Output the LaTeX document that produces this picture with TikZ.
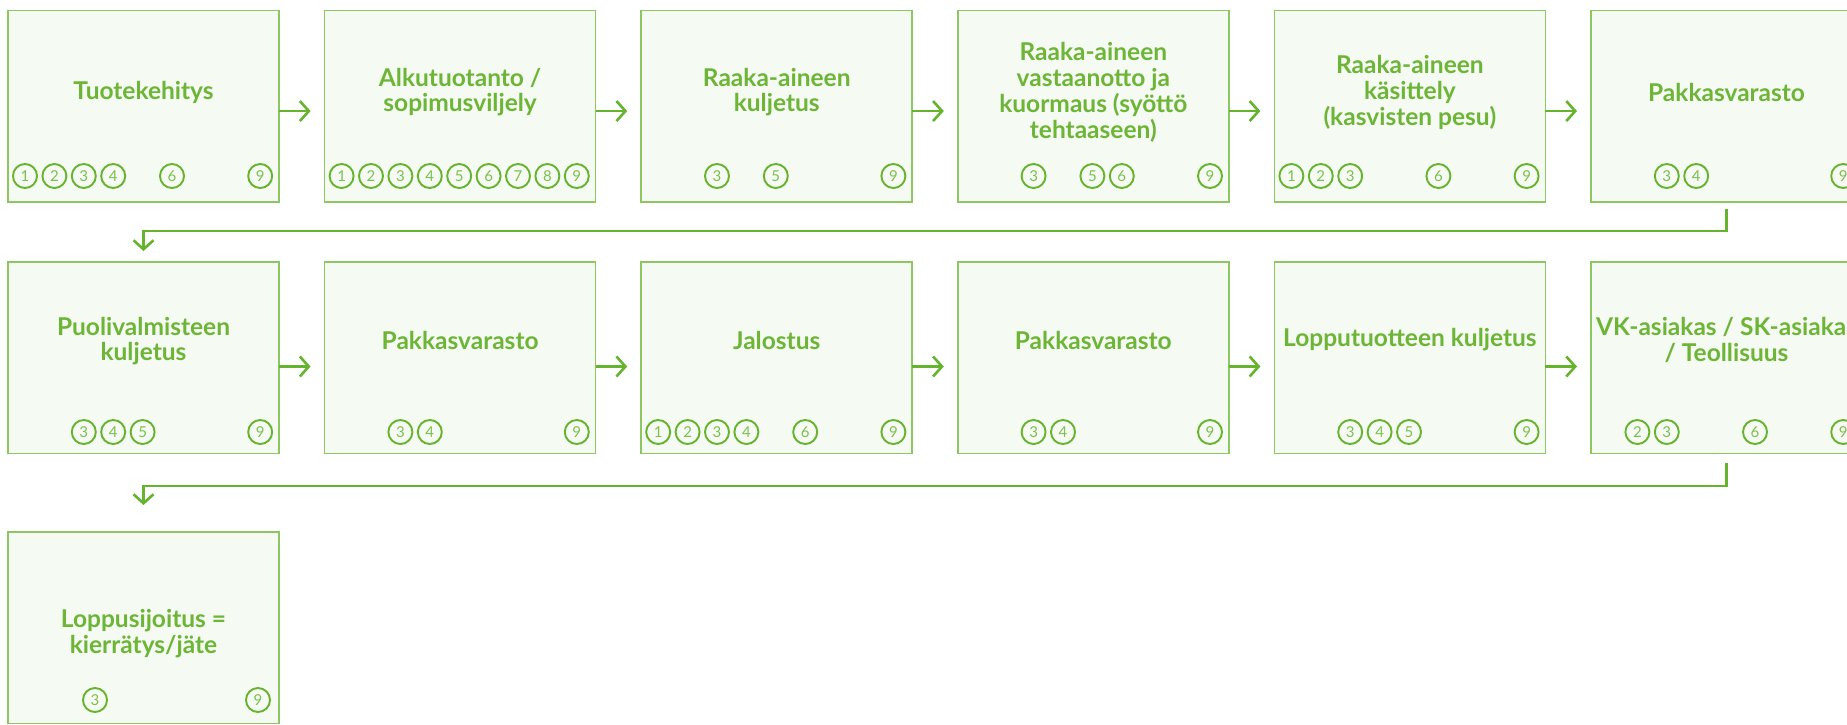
\documentclass[tikz,border=0pt]{standalone}
\usepackage{fontspec}
\setmainfont{Lato}
\usetikzlibrary{arrows.meta}
\definecolor{boxline}{HTML}{8CC763}
\definecolor{boxfill}{HTML}{F5FAF2}
\definecolor{gline}{HTML}{66B32E}
\definecolor{gtext}{HTML}{6CB536}
\definecolor{gnum}{HTML}{7DBF50}
\tikzset{
 stagebox/.style={draw=boxline, fill=boxfill, line width=1.5pt, minimum width=271pt, minimum height=191.5pt, inner sep=0pt, outer sep=0pt, anchor=north west},
 stagelabel/.style={text=gtext, font=\fontsize{24.5}{25.8}\selectfont\bfseries, align=center, inner sep=0pt},
 numcirc/.style={circle, draw=gline, line width=1.9pt, minimum size=24pt, inner sep=0pt, text=gnum, font=\fontsize{15}{15}\selectfont},
 flow/.style={draw=gline, line width=2.6pt, -{Straight Barb[length=9pt,width=20pt]}},
}
\newcommand\stagenums[4]{\foreach \k in {#4} {\node[numcirc] (n#1-\k) at ({#2+17+29.4*(\k-1)},#3) {\k};}}
\begin{document}
\begin{tikzpicture}[x=1pt,y=-1pt]
\useasboundingbox (0,0) rectangle (1847,724);
\clip (0,0) rectangle (1847,724);
\fill[white] (0,0) rectangle (1847,724);
% row 1
\node[stagebox] (b11) at (8,10.6) {};
\node[stagebox] (b12) at (324.6,10.6) {};
\node[stagebox] (b13) at (641.2,10.6) {};
\node[stagebox] (b14) at (957.8,10.6) {};
\node[stagebox] (b15) at (1274.4,10.6) {};
\node[stagebox] (b16) at (1591,10.6) {};
% row 2
\node[stagebox] (b21) at (8,262) {};
\node[stagebox] (b22) at (324.6,262) {};
\node[stagebox] (b23) at (641.2,262) {};
\node[stagebox] (b24) at (957.8,262) {};
\node[stagebox] (b25) at (1274.4,262) {};
\node[stagebox] (b26) at (1591,262) {};
% row 3
\node[stagebox] (b31) at (8,532) {};
% labels
\node[stagelabel] (t11) at (143.5,92) {Tuotekehitys};
\node[stagelabel] (t12) at (460.1,92) {Alkutuotanto /\\sopimusviljely};
\node[stagelabel] (t13) at (776.7,92) {Raaka-aineen\\kuljetus};
\node[stagelabel] (t14) at (1093.3,92.5) {Raaka-aineen\\vastaanotto ja\\kuormaus (syöttö\\tehtaaseen)};
\node[stagelabel] (t15) at (1409.9,92.5) {Raaka-aineen\\käsittely\\(kasvisten pesu)};
\node[stagelabel] (t16) at (1726.5,92) {Pakkasvarasto};
\node[stagelabel] (t21) at (143.5,341) {Puolivalmisteen\\kuljetus};
\node[stagelabel] (t22) at (460.1,340) {Pakkasvarasto};
\node[stagelabel] (t23) at (776.7,340) {Jalostus};
\node[stagelabel] (t24) at (1093.3,340) {Pakkasvarasto};
\node[stagelabel] (t25) at (1409.9,340) {Lopputuotteen kuljetus};
\node[stagelabel] (t26) at (1726.5,340) {VK-asiakas / SK-asiakas\\/ Teollisuus};
\node[stagelabel] (t31) at (143.5,634) {Loppusijoitus =\\kierrätys/jäte};
% numbers
\stagenums{11}{8}{176}{1,2,3,4,6,9}
\stagenums{12}{324.6}{176}{1,2,3,4,5,6,7,8,9}
\stagenums{13}{641.2}{176}{3,5,9}
\stagenums{14}{957.8}{176}{3,5,6,9}
\stagenums{15}{1274.4}{176}{1,2,3,6,9}
\stagenums{16}{1591}{176}{3,4,9}
\stagenums{21}{8}{432}{3,4,5,9}
\stagenums{22}{324.6}{432}{3,4,9}
\stagenums{23}{641.2}{432}{1,2,3,4,6,9}
\stagenums{24}{957.8}{432}{3,4,9}
\stagenums{25}{1274.4}{432}{3,4,5,9}
\stagenums{26}{1591}{432}{2,3,6,9}
\node[numcirc] (n31-3) at (95,700) {3};
\node[numcirc] (n31-9) at (258,700) {9};
% arrows row 1
\draw[flow] ([yshift=-4.7pt]b11.east) -- ([xshift=-14pt,yshift=-4.7pt]b12.west);
\draw[flow] ([yshift=-4.7pt]b12.east) -- ([xshift=-14pt,yshift=-4.7pt]b13.west);
\draw[flow] ([yshift=-4.7pt]b13.east) -- ([xshift=-14pt,yshift=-4.7pt]b14.west);
\draw[flow] ([yshift=-4.7pt]b14.east) -- ([xshift=-14pt,yshift=-4.7pt]b15.west);
\draw[flow] ([yshift=-4.7pt]b15.east) -- ([xshift=-14pt,yshift=-4.7pt]b16.west);
% arrows row 2
\draw[flow] ([yshift=-8.75pt]b21.east) -- ([xshift=-14pt,yshift=-8.75pt]b22.west);
\draw[flow] ([yshift=-8.75pt]b22.east) -- ([xshift=-14pt,yshift=-8.75pt]b23.west);
\draw[flow] ([yshift=-8.75pt]b23.east) -- ([xshift=-14pt,yshift=-8.75pt]b24.west);
\draw[flow] ([yshift=-8.75pt]b24.east) -- ([xshift=-14pt,yshift=-8.75pt]b25.west);
\draw[flow] ([yshift=-8.75pt]b25.east) -- ([xshift=-14pt,yshift=-8.75pt]b26.west);
% row connectors
\draw[flow] ([yshift=-7pt]b16.south) |- ([yshift=31pt]b21.north) -- ([yshift=11pt]b21.north);
\draw[flow] ([yshift=-9pt]b26.south) |- ([yshift=46pt]b31.north) -- ([yshift=27pt]b31.north);
\end{tikzpicture}
\end{document}
